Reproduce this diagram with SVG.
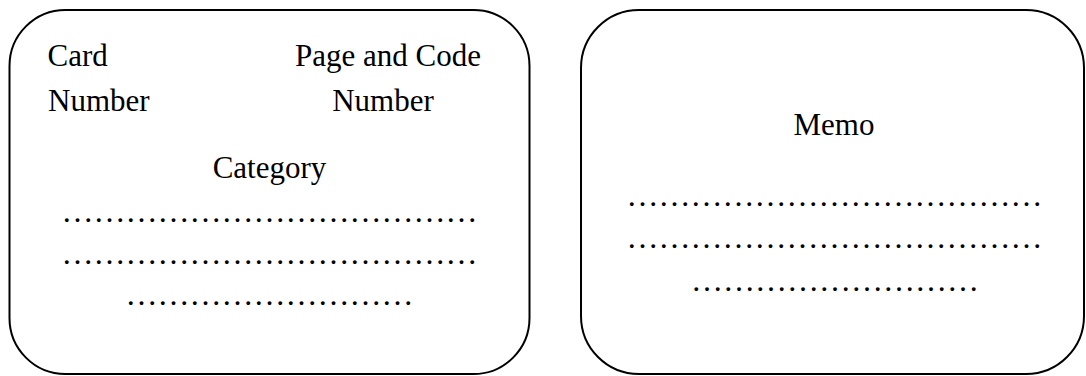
<svg xmlns="http://www.w3.org/2000/svg" width="1086" height="376" viewBox="0 0 1086 376">
<style>
.card{fill:#fff;stroke:#000;stroke-width:2}
.t{font-family:"Liberation Serif","Times New Roman",serif;font-size:31px;fill:#000}
.d{font-family:"Liberation Serif","Times New Roman",serif;font-size:32px;fill:#000;text-anchor:middle}
.m{text-anchor:middle}
</style>
<rect width="1086" height="376" fill="#fff"/>
<g id="card-front">
<rect class="card" x="9.5" y="10" width="520" height="364" rx="56" ry="56"/>
<text class="t" x="47.5" y="66">Card</text>
<text class="t" x="48" y="111">Number</text>
<text class="t m" x="388" y="66">Page and Code</text>
<text class="t m" x="383" y="111">Number</text>
<text class="t m" x="269.5" y="178">Category</text>
<text class="d" x="269.5" y="222">&#8230;&#8230;&#8230;&#8230;&#8230;&#8230;&#8230;&#8230;&#8230;&#8230;&#8230;&#8230;&#8230;</text>
<text class="d" x="269.5" y="264">&#8230;&#8230;&#8230;&#8230;&#8230;&#8230;&#8230;&#8230;&#8230;&#8230;&#8230;&#8230;&#8230;</text>
<text class="d" x="269.5" y="305">&#8230;&#8230;&#8230;&#8230;&#8230;&#8230;&#8230;&#8230;&#8230;</text>
</g>
<g id="card-back">
<rect class="card" x="581" y="10" width="503" height="364" rx="58" ry="58"/>
<text class="t m" x="834" y="135">Memo</text>
<text class="d" x="834.5" y="206">&#8230;&#8230;&#8230;&#8230;&#8230;&#8230;&#8230;&#8230;&#8230;&#8230;&#8230;&#8230;&#8230;</text>
<text class="d" x="834.5" y="248">&#8230;&#8230;&#8230;&#8230;&#8230;&#8230;&#8230;&#8230;&#8230;&#8230;&#8230;&#8230;&#8230;</text>
<text class="d" x="835" y="291">&#8230;&#8230;&#8230;&#8230;&#8230;&#8230;&#8230;&#8230;&#8230;</text>
</g>
<g id="connectors"/>
</svg>
